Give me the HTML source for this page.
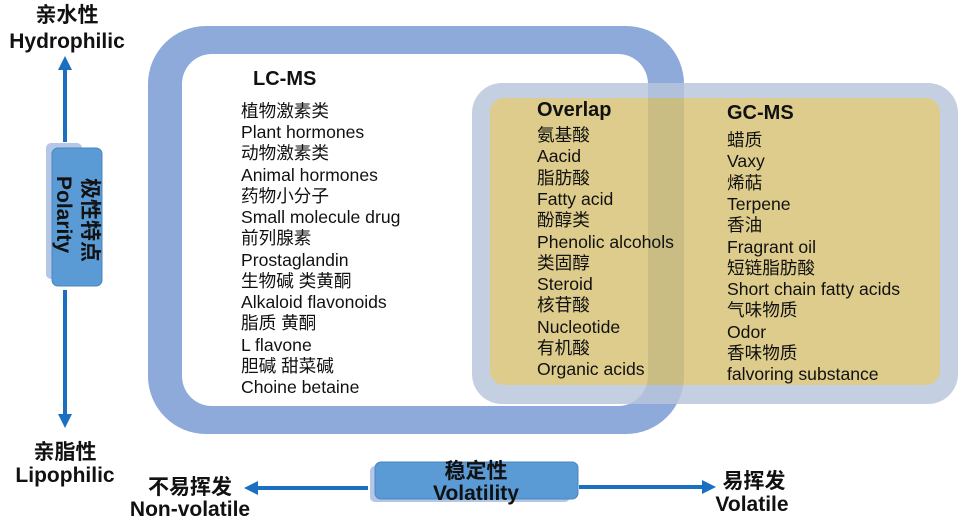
<!DOCTYPE html>
<html><head><meta charset="utf-8"><style>
html,body{margin:0;padding:0;background:#fff;}
svg{display:block;font-family:"Liberation Sans","Noto Sans CJK SC",sans-serif;}
.l{font-size:17.6px;fill:#111;}
.t{font-size:20px;font-weight:bold;fill:#111;}
.b{font-size:21px;font-weight:bold;fill:#111;}
</style></head><body>
<svg width="978" height="519" viewBox="0 0 978 519">
<defs>
<marker id="ah" markerWidth="14" markerHeight="14" refX="6" refY="7" orient="auto" markerUnits="userSpaceOnUse"><path d="M0,0 L14,7 L0,14 z" fill="#1a6fc0"/></marker>
</defs>
<rect x="148" y="26" width="536" height="408" rx="58" fill="#8eaadb"/>
<rect x="182" y="54" width="466" height="352" rx="30" fill="#fff"/>
<g opacity="0.82">
<rect x="472" y="83" width="486" height="321" rx="30" fill="#b9c5dc"/>
<rect x="490" y="98" width="450" height="287" rx="14" fill="#d6c272"/>
</g>
<text class="t" x="253" y="85">LC-MS</text>
<g class="l">
<text x="241" y="117">植物激素类</text>
<text x="241" y="138">Plant hormones</text>
<text x="241" y="159">动物激素类</text>
<text x="241" y="181">Animal hormones</text>
<text x="241" y="202">药物小分子</text>
<text x="241" y="223">Small molecule drug</text>
<text x="241" y="244">前列腺素</text>
<text x="241" y="266">Prostaglandin</text>
<text x="241" y="287">生物碱 类黄酮</text>
<text x="241" y="308">Alkaloid flavonoids</text>
<text x="241" y="329">脂质 黄酮</text>
<text x="241" y="351">L flavone</text>
<text x="241" y="372">胆碱 甜菜碱</text>
<text x="241" y="393">Choine betaine</text>
</g>
<text class="t" x="537" y="116">Overlap</text>
<g class="l">
<text x="537" y="141">氨基酸</text>
<text x="537" y="162">Aacid</text>
<text x="537" y="184">脂肪酸</text>
<text x="537" y="205">Fatty acid</text>
<text x="537" y="226">酚醇类</text>
<text x="537" y="248">Phenolic alcohols</text>
<text x="537" y="269">类固醇</text>
<text x="537" y="290">Steroid</text>
<text x="537" y="311">核苷酸</text>
<text x="537" y="333">Nucleotide</text>
<text x="537" y="354">有机酸</text>
<text x="537" y="375">Organic acids</text>
</g>
<text class="t" x="727" y="119">GC-MS</text>
<g class="l">
<text x="727" y="146">蜡质</text>
<text x="727" y="167">Vaxy</text>
<text x="727" y="189">烯萜</text>
<text x="727" y="210">Terpene</text>
<text x="727" y="231">香油</text>
<text x="727" y="253">Fragrant oil</text>
<text x="727" y="274">短链脂肪酸</text>
<text x="727" y="295">Short chain fatty acids</text>
<text x="727" y="316">气味物质</text>
<text x="727" y="338">Odor</text>
<text x="727" y="359">香味物质</text>
<text x="727" y="380">falvoring substance</text>
</g>
<line x1="65" y1="142" x2="65" y2="64" stroke="#1a6fc0" stroke-width="4" marker-end="url(#ah)"/>
<line x1="65" y1="290" x2="65" y2="420" stroke="#1a6fc0" stroke-width="4" marker-end="url(#ah)"/>
<rect x="46" y="143" width="36" height="136" rx="5" fill="#b4c7e7"/>
<rect x="52" y="148" width="50" height="138" rx="6" fill="#5b9bd5" stroke="#4a86c0" stroke-width="1"/>
<text class="b" transform="translate(83,178) rotate(90)" font-size="20">极性特点</text>
<text class="b" transform="translate(57,176) rotate(90)" font-size="20">Polarity</text>
<text class="b" x="67" y="22" text-anchor="middle">亲水性</text>
<text class="b" x="67" y="48" text-anchor="middle">Hydrophilic</text>
<text class="b" x="65" y="459" text-anchor="middle">亲脂性</text>
<text class="b" x="65" y="482" text-anchor="middle">Lipophilic</text>
<line x1="368" y1="488" x2="252" y2="488" stroke="#1a6fc0" stroke-width="4" marker-end="url(#ah)"/>
<line x1="579" y1="487" x2="708" y2="487" stroke="#1a6fc0" stroke-width="4" marker-end="url(#ah)"/>
<rect x="370" y="466" width="200" height="36" rx="5" fill="#b4c7e7"/>
<rect x="375" y="462" width="203" height="37" rx="6" fill="#5b9bd5" stroke="#4a86c0" stroke-width="1"/>
<text class="b" x="476" y="478" text-anchor="middle" font-size="19">稳定性</text>
<text class="b" x="476" y="500" text-anchor="middle" font-size="20">Volatility</text>
<text class="b" x="190" y="494" text-anchor="middle">不易挥发</text>
<text class="b" x="190" y="516" text-anchor="middle">Non-volatile</text>
<text class="b" x="754" y="488" text-anchor="middle">易挥发</text>
<text class="b" x="752" y="511" text-anchor="middle">Volatile</text>
</svg>
</body></html>
